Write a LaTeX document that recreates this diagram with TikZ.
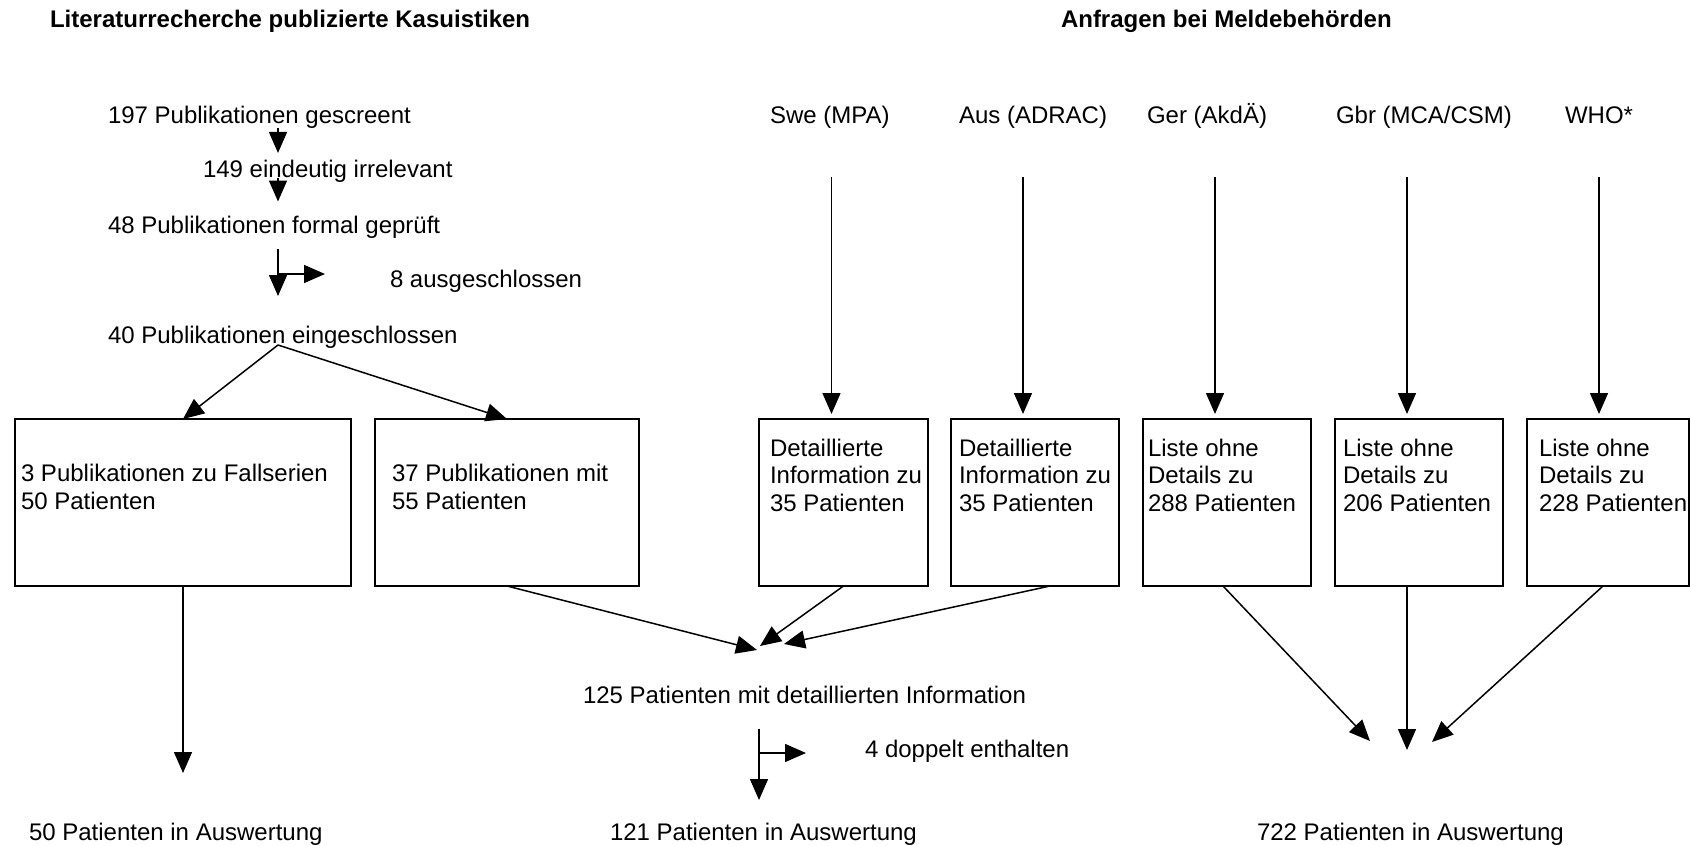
\documentclass[tikz,border=0pt]{standalone}
\usepackage{fontspec}
\setmainfont{Liberation Sans}
\usetikzlibrary{arrows.meta}

\tikzset{
  every node/.style={inner sep=0pt, outer sep=0pt, font=\fontsize{24}{27.5}\selectfont},
  headtxt/.style={anchor=base west, font=\fontsize{24}{27.5}\selectfont\bfseries},
  flowtxt/.style={anchor=base west},
  boxtxt/.style={anchor=north west, align=left},
  srcbox/.style={draw, line width=1.5pt, anchor=north west, minimum height=167pt},
  flowarr/.style={line width=1.5pt, -{Triangle[length=21pt,width=18pt]}},
}

\begin{document}
\begin{tikzpicture}[x=1pt,y=-1pt]
		\useasboundingbox (0,0) rectangle (1690,846);
		
		%%%%% HEADINGS %%%%%
		\node[headtxt] (lithead) at (50,27) {Literaturrecherche publizierte Kasuistiken};
		\node[headtxt] (meldhead) at (1061,27) {Anfragen bei Meldebehörden};
		
		%%%%% LITERATURE %%%%%
		\node[flowtxt] (scr) at (108,123) {197 Publikationen gescreent};
		\node[flowtxt] (irr) at (203,177.5) {149 eindeutig irrelevant};
		\node[flowtxt] (chk) at (108,233) {48 Publikationen formal geprüft};
		\node[flowtxt] (excl) at (390,287) {8 ausgeschlossen};
		\node[flowtxt] (incl) at (108,343) {40 Publikationen eingeschlossen};
		
		\coordinate (lcol) at (278,0);
		\coordinate (fork1) at (278,274);
		\coordinate (split) at (278,345);
		\draw[flowarr] (scr.south -| lcol) -- ++(0,25);
		\draw[flowarr] (irr.base -| lcol) -- ++(0,24);
		\draw[flowarr] (fork1) ++(0,-25) -- ++(0,47);
		\draw[flowarr] (fork1) -- ++(47,0);
		
		\node[srcbox, minimum width=336pt] (seriesbox) at (15,419) {};
		\node[srcbox, minimum width=264pt] (singlebox) at (375,419) {};
		\node[boxtxt] (seriestxt) at (21,464.3) {3 Publikationen zu Fallserien\\50 Patienten};
		\node[boxtxt] (singletxt) at (392,464.3) {37 Publikationen mit\\55 Patienten};
		
		\draw[flowarr] (split) -- (seriesbox.north);
		\draw[flowarr] (split) -- (singlebox.north);
		\draw[flowarr] (seriesbox.south) -- ++(0,187);
		
		%%%%% AUTHORITIES %%%%%
		\node[flowtxt] (swe) at (770,123) {Swe (MPA)};
		\node[flowtxt] (aus) at (959,123) {Aus (ADRAC)};
		\node[flowtxt] (ger) at (1147,123) {Ger (AkdÄ)};
		\node[flowtxt] (gbr) at (1336,123) {Gbr (MCA/CSM)};
		\node[flowtxt] (who) at (1565,123) {WHO*};
		
		\node[srcbox, minimum width=169pt] (swebox) at (759,419) {};
		\node[srcbox, minimum width=168pt] (ausbox) at (951,419) {};
		\node[srcbox, minimum width=168pt] (gerbox) at (1143,419) {};
		\node[srcbox, minimum width=168pt] (gbrbox) at (1335,419) {};
		\node[srcbox, minimum width=162pt] (whobox) at (1527,419) {};
		
		\node[boxtxt] (swetxt) at (770,438.7) {Detaillierte\\Information zu\\35 Patienten};
		\node[boxtxt] (austxt) at (959,438.7) {Detaillierte\\Information zu\\35 Patienten};
		\node[boxtxt] (gertxt) at (1148,438.7) {Liste ohne\\Details zu\\288 Patienten};
		\node[boxtxt] (gbrtxt) at (1343,438.7) {Liste ohne\\Details zu\\206 Patienten};
		\node[boxtxt] (whotxt) at (1539,438.7) {Liste ohne\\Details zu\\228 Patienten};
		
		\foreach \src/\dx in {swe/-12,aus/-12,ger/-12,gbr/-12,who/-9}
			\draw[flowarr, shorten >=5pt] ([xshift=\dx pt]\src box.north) ++(0,-242) -- ++(0,242);
		
		%%%%% MERGE %%%%%
		\node[flowtxt] (det) at (583,703) {125 Patienten mit detaillierten Information};
		\node[flowtxt] (dup) at (865,757) {4 doppelt enthalten};
		
		\coordinate (detin1) at (757,650);
		\coordinate (detin2) at (760,646);
		\coordinate (detin3) at (784,644);
		\draw[flowarr] (singlebox.south) -- (detin1);
		\draw[flowarr] (swebox.south) -- (detin2);
		\draw[flowarr] ([xshift=15pt]ausbox.south) -- (detin3);
		
		\coordinate (fork2) at (759,753);
		\draw[flowarr] (fork2) ++(0,-24.5) -- ++(0,71.5);
		\draw[flowarr] (fork2) -- ++(47,0);
		
		\coordinate (sumin1) at (1370,741);
		\coordinate (sumin2) at (1407,750);
		\coordinate (sumin3) at (1432,742);
		\draw[flowarr] ([xshift=-4pt]gerbox.south) -- (sumin1);
		\draw[flowarr] ([xshift=-12pt]gbrbox.south) -- (sumin2);
		\draw[flowarr] ([xshift=-5pt]whobox.south) -- (sumin3);
		
		%%%%% RESULTS %%%%%
		\node[flowtxt] (resA) at (29,840) {50 Patienten in Auswertung};
		\node[flowtxt] (resB) at (610,840) {121 Patienten in Auswertung};
		\node[flowtxt] (resC) at (1257,840) {722 Patienten in Auswertung};
		
\end{tikzpicture}
\end{document}
